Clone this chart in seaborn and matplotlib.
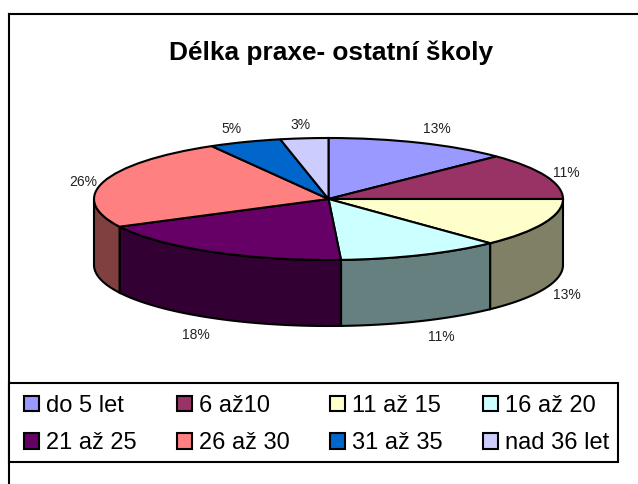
import numpy as np
import matplotlib
matplotlib.use('Agg')
import matplotlib.pyplot as plt
import seaborn as sns

title = 'Délka praxe- ostatní školy'
categories = ['do 5 let', '6 až10', '11 až 15', '16 až 20', '21 až 25', '26 až 30', '31 až 35', 'nad 36 let']
# slice shares as measured on the drawn pie, the printed labels are below
shares = [12.7, 12.3, 12.9, 11.25, 18.35, 24.2, 5.0, 3.3]
pct_labels = ['13%', '11%', '13%', '11%', '18%', '26%', '5%', '3%']
hex_colors = ['#9999FF', '#993366', '#FFFFCC', '#CCFFFF', '#660066', '#FF8080', '#0066CC', '#CCCCFF']

# label offsets from the rim, in pixels
label_off = [(17, 14), (21, 3), (23, -6), (20, -16), (-15, -17), (-20, 0), (-13, 13), (-4, 13)]

sns.set_theme(style='white')
plt.rcParams['font.family'] = ['Liberation Sans', 'DejaVu Sans']
palette = sns.color_palette(hex_colors)

W, H = 638, 484
cx, cy, rx, ry, depth = 328.5, 199, 234.5, 61, 66
wall = depth / ry

fig = plt.figure(figsize=(W / 100, H / 100), dpi=100, facecolor='white')
ax = fig.add_axes([9 / W, 0, (W - 9) / W, (H - 14) / H])

wedges, _ = ax.pie(shares, colors=palette, startangle=90, counterclock=False,
                   wedgeprops={'edgecolor': 'black', 'linewidth': 1.5, 'zorder': 3})

# stretch the unit circle to the flattened ellipse
ax.set_aspect('auto')
ax.set_xlim((9 - cx) / rx, (W - cx) / rx)
ax.set_ylim((cy - H) / ry, (cy - 14) / ry)

# side walls, only the front half of the rim shows
edges = np.concatenate([[0], np.cumsum(shares)]) / np.sum(shares) * 360
for i, color in enumerate(palette):
    a0, a1 = max(edges[i], 90), min(edges[i + 1], 270)
    if a1 <= a0:
        continue
    t = np.radians(np.linspace(a0, a1, 60))
    x = np.concatenate([np.sin(t), np.sin(t[::-1])])
    y = np.concatenate([np.cos(t), np.cos(t[::-1]) - wall])
    ax.fill(x, y, facecolor=np.array(color) * 0.5, edgecolor='black', linewidth=1.5, zorder=2)

# percent labels
mids = np.radians((edges[:-1] + edges[1:]) / 2)
for m, text, off in zip(mids, pct_labels, label_off):
    y = np.cos(m) - (wall if np.cos(m) < 0 else 0)
    ax.annotate(text, (np.sin(m), y), xytext=(off[0] * 0.72, off[1] * 0.72),
                textcoords='offset points', ha='center', va='center',
                fontsize=10, color='#222222')

ax.set_frame_on(True)
for side in ['right', 'bottom']:
    ax.spines[side].set_visible(False)
for side in ['left', 'top']:
    ax.spines[side].set_visible(True)
    ax.spines[side].set_color('black')
    ax.spines[side].set_linewidth(1.5)

fig.text(331 / W, 1 - 53 / H, title, ha='center', va='center',
         fontsize=18.9, fontweight='bold', color='black')

# legend box, the entries sit further in than the legend's own frame allows
fig.add_artist(plt.Rectangle((9 / W, 1 - 462 / H), 609 / W, 79 / H, transform=fig.transFigure,
                             facecolor='white', edgecolor='black', linewidth=1.5))

# legend fills by column, so take the two rows in turn
order = [0, 4, 1, 5, 2, 6, 3, 7]
leg = fig.legend([wedges[i] for i in order], [categories[i] for i in order], ncol=4,
                 loc='center', bbox_to_anchor=(14.6 / W, 1 - 464 / H, 604 / W, 79 / H),
                 mode='expand', borderaxespad=0, fontsize=17,
                 handlelength=0.62, handleheight=0.62, handletextpad=0.3,
                 labelspacing=0.66, borderpad=0.4, frameon=False)
for t in leg.get_texts():
    t.set_color('black')

plt.savefig('out.png', dpi=100)
